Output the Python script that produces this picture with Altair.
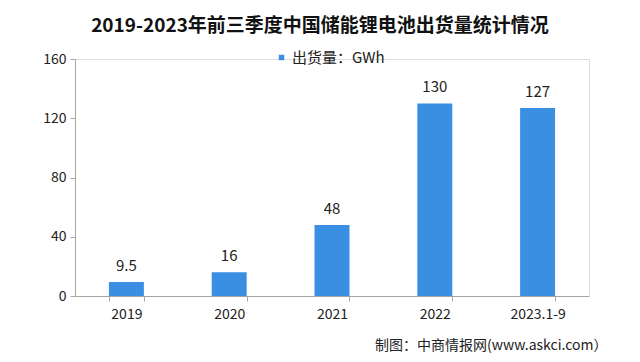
import altair as alt
import pandas as pd

categories = ["2019", "2020", "2021", "2022", "2023.1-9"]
values = [9.5, 16, 48, 130, 127]
value_labels = ["9.5", "16", "48", "130", "127"]
series_name = "出货量：GWh"
y_ticks = [0, 40, 80, 120, 160]

df = pd.DataFrame({"year": categories, "value": values, "label": value_labels,
                   "series": [series_name] * len(categories)})

FONT = "Noto Sans CJK SC"
BLUE = "#3a8fe3"
AXIS = "#a6a6a6"

x = alt.X("year:N", sort=categories,
          scale=alt.Scale(paddingInner=0.66, paddingOuter=0.33),
          axis=alt.Axis(title="制图：中商情报网(www.askci.com）", labelAngle=0,
                        labelFont=FONT, labelFontSize=14, labelColor="#222",
                        labelPadding=6, domainColor=AXIS, tickColor=AXIS,
                        tickSize=5, tickBand="extent",
                        titleFont=FONT, titleFontSize=14, titleFontWeight="normal",
                        titleColor="#222", titleAnchor="end", titleAlign="right",
                        titleX=532, titleY=49, titleBaseline="middle"))

bars = alt.Chart(df).mark_bar(color=BLUE).encode(
    x=x,
    y=alt.Y("value:Q", scale=alt.Scale(domain=[0, 160]),
            axis=alt.Axis(values=y_ticks, title=None, grid=False,
                          labelFont=FONT, labelFontSize=14, labelColor="#222",
                          labelPadding=4, domainColor=AXIS, tickColor=AXIS,
                          tickSize=5)),
    color=alt.Color("series:N", scale=alt.Scale(range=[BLUE]),
                    legend=alt.Legend(title=None, orient="none", legendX=199, legendY=-9,
                                      symbolType="square", symbolSize=30,
                                      labelFont=FONT, labelFontSize=15, labelColor="#222",
                                      labelOffset=3, symbolStrokeWidth=0)),
)

labels = alt.Chart(df).mark_text(dy=-16, font=FONT, fontSize=15, color="#222").encode(
    x=alt.X("year:N", sort=categories),
    y="value:Q",
    text="label:N",
)

chart = alt.layer(bars, labels).properties(
    width=514, height=237,
    title=alt.Title("2019-2023年前三季度中国储能锂电池出货量统计情况",
                    font=FONT, fontSize=19, fontWeight="bold", color="#111",
                    anchor="middle", dx=-12, offset=14),
    autosize=alt.AutoSizeParams(type="none"),
    padding={"left": 67, "top": 51, "right": 43, "bottom": 58},
).configure_view(strokeWidth=0, stroke="transparent").configure(background="white")

chart.save("out.html", embed_options={"renderer": "svg", "actions": False})
